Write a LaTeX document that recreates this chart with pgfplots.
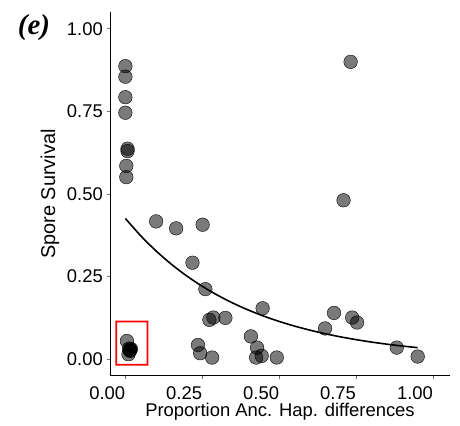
\documentclass[border=0pt]{standalone}
\usepackage{fontspec}
\setmainfont{Liberation Sans}
\newfontfamily\panelfont{Liberation Serif}
\usepackage{pgfplots}
\pgfplotsset{compat=1.18}

\begin{document}
\begin{tikzpicture}
\useasboundingbox (-110bp,-50.3bp) rectangle (350bp,375.7bp);
\begin{axis}[
    at={(0,0)}, anchor=south west,
    scale only axis, width=340bp, height=363.4bp,
    xmin=-0.05, xmax=1.055, ymin=-0.05, ymax=1.05,
    axis x line*=bottom, axis y line*=left,
    axis line style={black, line width=0.8bp},
    xtick={0,0.25,0.5,0.75,1}, ytick={0,0.25,0.5,0.75,1},
    tick align=outside, major tick length=3bp,
    tick style={black!55, line width=0.8bp},
    font=\fontsize{18.5}{22}\selectfont,
    /pgf/number format/assume math mode=true,
    /pgf/number format/.cd, fixed, fixed zerofill, precision=2, /pgfplots/.cd,
    xticklabel style={anchor=base east, inner sep=0pt, yshift=-21bp},
    yticklabel style={anchor=east, inner sep=0pt, xshift=-4bp},
    xlabel={Proportion Anc. Hap. differences},
    ylabel={Spore Survival},
    every axis x label/.style={at={(axis description cs:0.5,-0.112)}, anchor=base, inner sep=0pt},
    every axis y label/.style={at={(axis description cs:-0.1765,0.5)}, rotate=90, anchor=center,
        font=\fontsize{20}{24}\selectfont},
    clip=false,
]
% observations
\addplot[only marks, mark=*, mark size=6.8bp,
    mark options={draw=none, fill=black, fill opacity=0.52}] coordinates {
    (0.000,0.887) (0.000,0.855) (0.000,0.793) (0.000,0.746)
    (0.007,0.637) (0.007,0.630) (0.003,0.585) (0.003,0.551)
    (0.005,0.055) (0.012,0.032) (0.016,0.030) (0.014,0.027)
    (0.018,0.031) (0.010,0.015) (0.015,0.025)
    (0.100,0.417) (0.165,0.396) (0.251,0.407) (0.218,0.292)
    (0.260,0.212) (0.446,0.154) (0.273,0.119) (0.286,0.126)
    (0.325,0.125) (0.236,0.043) (0.243,0.018) (0.282,0.005)
    (0.408,0.069) (0.428,0.035) (0.425,0.005) (0.443,0.010)
    (0.492,0.005) (0.678,0.140) (0.649,0.093) (0.732,0.900)
    (0.709,0.481) (0.737,0.126) (0.753,0.111) (0.882,0.035)
    (0.950,0.008)
};
% fitted curve
\addplot[black, line width=1.6bp, smooth, no marks] coordinates {
    (0.00,0.4260) (0.05,0.3734) (0.10,0.3274) (0.15,0.2870) (0.20,0.2516)
    (0.25,0.2206) (0.30,0.1934) (0.35,0.1695) (0.40,0.1486) (0.45,0.1303)
    (0.50,0.1142) (0.55,0.1001) (0.60,0.0878) (0.65,0.0769) (0.70,0.0674)
    (0.75,0.0591) (0.80,0.0518) (0.85,0.0454) (0.90,0.0398) (0.95,0.0349)
};
\coordinate (boxA) at (axis cs:-0.030,-0.017);
\coordinate (boxB) at (axis cs:0.072,0.114);
\end{axis}
% highlight box, as a filled frame
\fill[red, even odd rule]
    ([shift={(-0.9bp,-0.9bp)}]boxA) rectangle ([shift={(0.9bp,0.9bp)}]boxB)
    ([shift={(0.9bp,0.9bp)}]boxA) rectangle ([shift={(-0.9bp,-0.9bp)}]boxB);
\node[font=\panelfont\bfseries\itshape\fontsize{29}{30}\selectfont] at (-76bp,347.7bp) {(e)};
\end{tikzpicture}
\end{document}
